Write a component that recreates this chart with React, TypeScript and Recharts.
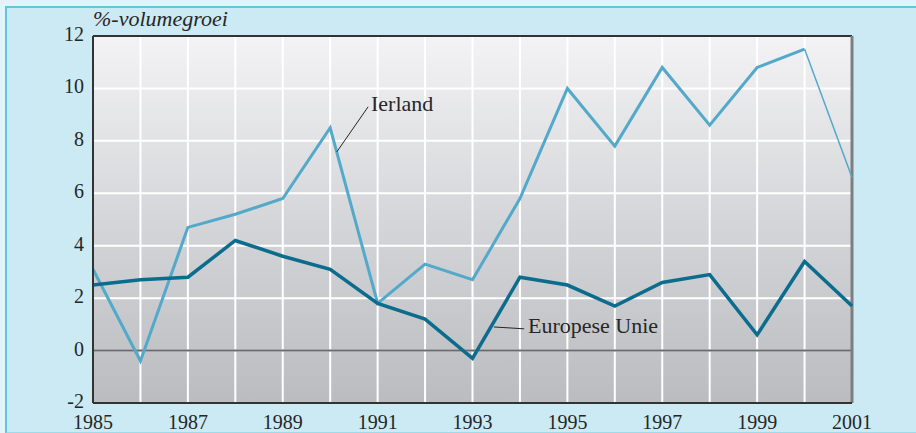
import React from "react";
import { CartesianGrid, Line, LineChart, ReferenceDot, ReferenceLine, XAxis, YAxis } from "recharts";

// Volumegroei in % per jaar.
const YEARS = [1985, 1986, 1987, 1988, 1989, 1990, 1991, 1992, 1993, 1994, 1995, 1996, 1997, 1998, 1999, 2000, 2001];
const IERLAND = [3.1, -0.4, 4.7, 5.2, 5.8, 8.5, 1.8, 3.3, 2.7, 5.8, 10.0, 7.8, 10.8, 8.6, 10.8, 11.5, 6.6];
const EU = [2.5, 2.7, 2.8, 4.2, 3.6, 3.1, 1.8, 1.2, -0.3, 2.8, 2.5, 1.7, 2.6, 2.9, 0.6, 3.4, 1.7];
const Y_TICKS = [-2, 0, 2, 4, 6, 8, 10, 12];
// Het laatste stuk van de Ierland-lijn is dun getekend (voorlopig cijfer).
const TAIL_FROM = 2000;

const data = YEARS.map((year, i) => ({
  year,
  ierland: year <= TAIL_FROM ? IERLAND[i] : null,
  ierlandTail: year >= TAIL_FROM ? IERLAND[i] : null,
  eu: EU[i],
}));

const SERIF = '"Liberation Serif", "Times New Roman", serif';
const INK = "#262626";
const LIGHT_BLUE = "#52a9ca";
const DARK_BLUE = "#0c6c8d";

// y-labels staan in het origineel iets boven de gridlijn
function YTick({ x, y, payload }: any) {
  return (
    <text x={x} y={y} dy="0.25em" textAnchor="end" fill={INK} fontSize={20} fontFamily={SERIF}>
      {payload.value}
    </text>
  );
}

export default function App() {
  return (
    <div style={{ position: "absolute", left: 0, top: 0, width: 916, height: 433, background: "#e2f4f9", overflow: "hidden" }}>
      <div
        style={{
          position: "absolute",
          left: 5,
          top: 6,
          width: 940,
          height: 424,
          background: "#cbeaf3",
          borderLeft: "2px solid #62c5dd",
          borderTop: "2px solid #62c5dd",
          borderBottom: "2px solid #9edaea",
        }}
      />
      <div
        style={{
          position: "absolute",
          left: 93,
          top: 8,
          fontFamily: SERIF,
          fontStyle: "italic",
          fontSize: 22,
          lineHeight: "22px",
          color: INK,
        }}
      >
        %-volumegroei
      </div>
      <div style={{ position: "absolute", left: 0, top: 0 }}>
        <LineChart width={916} height={433} data={data} margin={{ top: 36, right: 64, bottom: 0, left: 0 }}>
          <defs>
            <linearGradient id="plotBg" x1="0" y1="0" x2="0" y2="1">
              <stop offset="0%" stopColor="#f3f3f5" />
              <stop offset="55%" stopColor="#d2d3d6" />
              <stop offset="100%" stopColor="#bbbcc0" />
            </linearGradient>
          </defs>
          <CartesianGrid stroke="#ffffff" strokeWidth={2} fill="url(#plotBg)" fillOpacity={1} />
          <XAxis
            dataKey="year"
            type="number"
            domain={[1985, 2001]}
            ticks={YEARS}
            interval={0}
            tickFormatter={(v: number) => (v % 2 === 1 ? String(v) : "")}
            height={30}
            tickLine={false}
            tickMargin={6}
            axisLine={{ stroke: "#333", strokeWidth: 2 }}
            tick={{ fill: INK, fontSize: 20, fontFamily: SERIF }}
          />
          <YAxis
            type="number"
            domain={[-2, 12]}
            ticks={Y_TICKS}
            interval={0}
            width={93}
            tickLine={false}
            tickMargin={3}
            axisLine={{ stroke: "#333", strokeWidth: 2 }}
            tick={<YTick />}
          />
          <ReferenceLine y={0} stroke="#6b6b6d" strokeWidth={2} />
          <ReferenceLine y={12} stroke="#333" strokeWidth={2} />
          <ReferenceLine x={2001} stroke="#7d7e80" strokeWidth={3} />

          <Line dataKey="ierland" stroke={LIGHT_BLUE} strokeWidth={3} dot={false} isAnimationActive={false} />
          <Line dataKey="ierlandTail" stroke={LIGHT_BLUE} strokeWidth={1.5} dot={false} isAnimationActive={false} />
          <Line dataKey="eu" stroke={DARK_BLUE} strokeWidth={3.5} dot={false} isAnimationActive={false} />

          <ReferenceLine segment={[{ x: 1990.14, y: 7.58 }, { x: 1990.8, y: 9.3 }]} stroke={INK} strokeWidth={1} />
          <ReferenceDot
            x={1990.86}
            y={9.42}
            r={0}
            fill="none"
            stroke="none"
            label={{ value: "Ierland", position: "right", offset: 0, fill: INK, fontSize: 22, fontFamily: SERIF }}
          />
          <ReferenceLine segment={[{ x: 1993.45, y: 0.9 }, { x: 1994.09, y: 0.83 }]} stroke={INK} strokeWidth={1} />
          <ReferenceDot
            x={1994.17}
            y={0.98}
            r={0}
            fill="none"
            stroke="none"
            label={{ value: "Europese Unie", position: "right", offset: 0, fill: INK, fontSize: 22, fontFamily: SERIF }}
          />
        </LineChart>
      </div>
    </div>
  );
}
